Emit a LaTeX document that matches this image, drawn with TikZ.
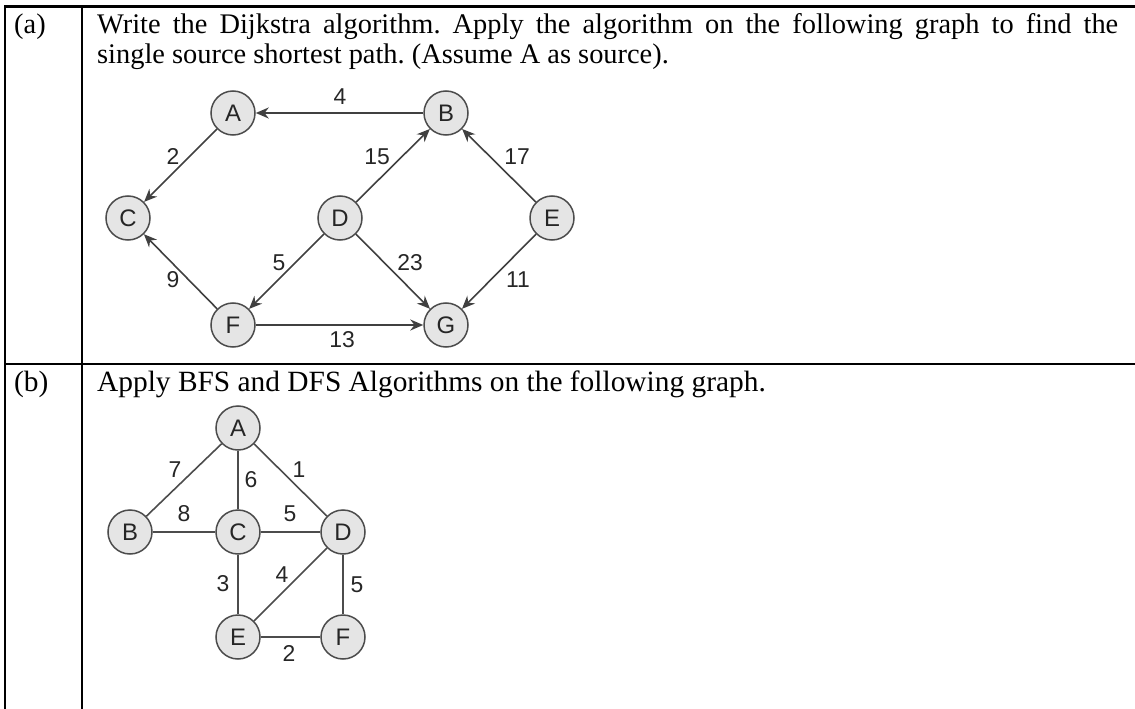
\documentclass[tikz,border=0pt]{standalone}
\usepackage{fontspec}
\setmainfont{Liberation Serif}
\newfontfamily\graphfont{Liberation Sans}
\usetikzlibrary{arrows.meta}
\frenchspacing

\tikzset{
  vertex/.style={circle, draw=black!70, fill=black!10, line width=1.5bp, minimum size=44bp, inner sep=0pt, text=black!85, font=\graphfont\fontsize{24}{24}\selectfont},
  wt/.style={text=black!85, inner sep=0pt, font=\graphfont\fontsize{23}{23}\selectfont},
  arc/.style={draw=black!75, line width=1.6bp, -{Stealth[length=13bp,width=11bp]}},
  edge/.style={draw=black!70, line width=1.6bp},
  rule/.style={line width=2.5bp},
  qtext/.style={anchor=base west, inner sep=0pt, font=\fontsize{28.5}{30}\selectfont}
}

\begin{document}
\begin{tikzpicture}[x=1bp, y=-1bp]
	\useasboundingbox (0,0) rectangle (1135,709);
	\draw[rule] (5,709) -- (5,6.5) -- (1135,6.5);
	\draw[rule] (82,6.5) -- (82,709);
	\draw[rule] (5,364) -- (1135,364);
	\node[qtext] (la) at (14,34) {(a)};
	\node[qtext] (qa1) at (97,34) {\hbox to 1021bp{Write the Dijkstra algorithm. Apply the algorithm on the following graph to find the}};
	\node[qtext] (qa2) at (97,64) {single source shortest path. (Assume A as source).};
	\node[qtext, font=\fontsize{29.5}{30}\selectfont] (lb) at (14,391) {(b)};
	\node[qtext, font=\fontsize{29.5}{30}\selectfont] (qb) at (97,391) {Apply BFS and DFS Algorithms on the following graph.};
	% graph (a)
	\foreach \n/\x/\y in {A/233/113, B/446/113, C/128/218, D/340/218, E/552/218, F/233/325, G/446/325}
		\node[vertex] (a\n) at (\x,\y) {\n};
	\foreach \s/\t in {B/A, A/C, D/B, E/B, D/F, D/G, E/G, F/C, F/G}
		\draw[arc] (a\s) -- (a\t);
	\foreach \w/\x/\y [count=\i] in {4/340/97, 2/173/157, 15/377/157, 17/517/157, 5/279/263, 23/410/263, 9/173/280, 11/518/280, 13/342/340}
		\node[wt] (wa\i) at (\x,\y) {\w};
	% graph (b)
	\foreach \n/\x/\y in {A/238/428, B/130/532, C/238/532, D/343/532, E/238/637, F/343/637}
		\node[vertex] (b\n) at (\x,\y) {\n};
	\foreach \s/\t in {A/B, A/C, A/D, B/C, C/D, C/E, D/E, D/F, E/F}
		\draw[edge] (b\s) -- (b\t);
	\foreach \w/\x/\y [count=\i] in {7/175/470, 6/251/480, 1/299/470, 8/184/514, 5/290/514, 3/223/584, 4/282/575, 5/357/585, 2/289/653}
		\node[wt] (wb\i) at (\x,\y) {\w};
\end{tikzpicture}
\end{document}
